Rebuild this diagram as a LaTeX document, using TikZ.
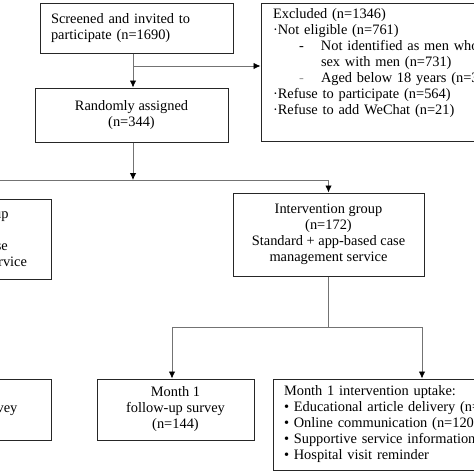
\documentclass[tikz,border=0pt]{standalone}
\usepackage{fontspec}
\setmainfont{Liberation Serif}
\usetikzlibrary{arrows.meta,positioning}
\tikzset{
  box/.style={draw=black!85, line width=1pt, rectangle, inner sep=0pt, font=\fontsize{14.4}{16}\selectfont},
  link/.style={draw=black!55, line width=0.8pt},
  tip/.style={link, -{Latex[length=7pt,width=6.5pt,black]}}
}
\begin{document}
\begin{tikzpicture}[x=1pt,y=-1pt]
				\useasboundingbox (0,0) rectangle (474,474);
				\clip (0,0) rectangle (474,474);
				% enrolment
				\node (screen) [box, minimum width=193pt, minimum height=50pt, text width=171pt, align=left] at (136.5,28) {Screened and invited to\\participate (n=1690)};
				\node (excl) [box, minimum width=264pt, minimum height=138pt, text width=240pt, align=left] at (393,72) {Excluded (n=1346)\\
					\textperiodcentered Not eligible (n=761)\\
					\makebox[48pt][l]{\hspace*{26pt}-}Not identified as men who have\\
					\hspace*{48pt}sex with men (n=731)\\
					\makebox[48pt][l]{\hspace*{26pt}\textcolor{black!40}{-}}Aged below 18 years (n=30)\\
					\textperiodcentered Refuse to participate (n=564)\\
					\textperiodcentered Refuse to add WeChat (n=21)\\
					\strut};
				\node (rand) [box, minimum width=193pt, minimum height=54pt, align=center] at (131.5,115) {Randomly assigned\\(n=344)};
				%
				% allocation
				\node (ctrl) [box, minimum width=166pt, minimum height=80pt, align=center] at (-32,239) {Control group\\(n=172)\\Standard case\\management service};
				\node (inter) [box, minimum width=191pt, minimum height=83pt, align=center] at (328.5,234.5) {Intervention group\\(n=172)\\Standard + app-based case\\management service};
				%
				% follow-up
				\node (ctrlfu) [box, minimum width=166pt, minimum height=61pt, align=center] at (-32,409.5) {Month 1\\follow-up survey\\\phantom{(n=144)}};
				\node (month) [box, minimum width=157pt, minimum height=61pt, align=center] at (175.5,409.5) {Month 1\\follow-up survey\\(n=144)};
				\node (uptake) [box, minimum width=282pt, minimum height=91pt, text width=260pt, align=left] at (414,424.5) {Month 1 intervention uptake:\\
					\textbullet{} Educational article delivery (n=\\
					\textbullet{} Online communication (n=120)\\
					\textbullet{} Supportive service information\\
					\textbullet{} Hospital visit reminder};
				%
				\coordinate (fork) at (133,66);
				\draw[link] (screen.south -| fork) -- (fork);
				\draw[tip] (fork) -- (fork |- rand.north);
				\draw[tip] (fork) -- (fork -| excl.west);
				%
				\coordinate (split) at (133,180);
				\draw[tip] (rand.south -| split) -- (split);
				\draw[tip] (split -| ctrl) -- (split -| inter) -- (inter.north);
				\draw[tip] (split -| ctrl) -- (ctrl.north);
				%
				\coordinate (jl) at (172,327);
				\coordinate (jr) at (422,327);
				\draw[link] (inter.south) -- (inter.south |- jl);
				\draw[link] (jl) -- (jr);
				\draw[tip] (jl) -- (jl |- month.north);
				\draw[tip] (jr) -- (jr |- uptake.north);
				\draw[tip] (ctrl.south) -- (ctrlfu.north);
			\end{tikzpicture}
\end{document}
